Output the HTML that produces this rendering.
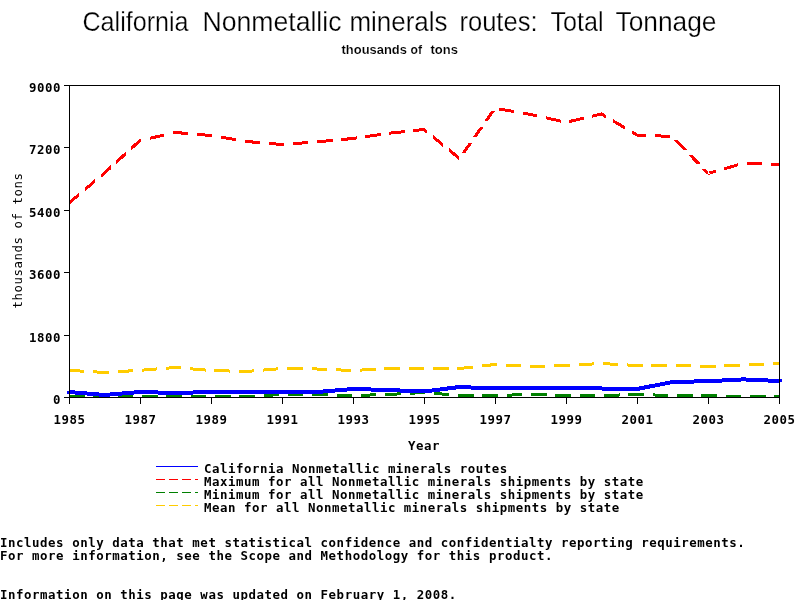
<!DOCTYPE html>
<html><head><meta charset="utf-8"><title>California Nonmetallic minerals routes: Total Tonnage</title>
<style>
html,body{margin:0;padding:0;background:#fff;}
body{width:800px;height:600px;overflow:hidden;position:relative;}
svg{position:absolute;left:0;top:0;}
text{fill:#000;}
</style></head><body>
<svg width="800" height="600" viewBox="0 0 800 600">
<g shape-rendering="crispEdges" stroke="none">
<path fill="#008000" d="M69.00,395.00 L84.50,395.00 L84.50,398.00 L69.00,398.00Z M93.35,395.00 L104.50,395.00 L104.50,398.00 L93.35,398.00Z M104.50,395.00 L108.85,395.00 L108.85,398.00 L104.50,398.00Z M117.70,395.00 L133.20,395.00 L133.20,398.00 L117.70,398.00Z M142.05,394.94 L157.54,394.51 L157.54,397.51 L142.05,397.94Z M166.38,394.26 L175.50,394.00 L175.50,397.00 L166.38,397.26Z M175.50,394.00 L181.87,394.18 L181.87,397.18 L175.50,397.00Z M190.71,394.43 L206.20,394.86 L206.20,397.87 L190.71,397.43Z M215.05,395.00 L230.55,395.00 L230.55,398.00 L215.05,398.00Z M239.40,395.00 L246.50,395.00 L246.50,398.00 L239.40,398.00Z M246.50,395.00 L254.87,394.53 L254.87,397.53 L246.50,398.00Z M263.69,394.03 L279.15,393.16 L279.15,396.16 L263.69,397.03Z M287.99,393.00 L303.49,393.00 L303.49,396.00 L287.99,396.00Z M312.34,393.00 L317.50,393.00 L317.50,396.00 L312.34,396.00Z M317.50,393.00 L327.83,393.29 L327.83,396.29 L317.50,396.00Z M336.67,393.54 L352.16,393.98 L352.16,396.98 L336.67,396.54Z M361.01,393.77 L376.49,393.34 L376.49,396.34 L361.01,396.78Z M385.34,393.09 L388.50,393.00 L388.50,396.00 L385.34,396.09Z M388.50,393.00 L400.80,392.30 L400.80,395.31 L388.50,396.00Z M409.62,391.81 L424.00,391.00 L424.00,394.00 L409.62,394.81Z M424.00,390.99 L425.07,391.09 L425.07,394.10 L424.00,394.01Z M433.86,391.83 L449.26,393.13 L449.26,396.14 L433.86,394.84Z M458.05,393.87 L459.50,393.99 L459.50,397.01 L458.05,396.88Z M459.50,394.00 L473.54,394.00 L473.54,397.00 L459.50,397.00Z M482.39,394.00 L495.00,394.00 L495.00,397.00 L482.39,397.00Z M495.00,394.00 L497.89,393.92 L497.89,396.92 L495.00,397.00Z M506.73,393.67 L522.22,393.23 L522.22,396.23 L506.73,396.67Z M531.06,393.02 L546.55,393.45 L546.55,396.45 L531.06,396.02Z M555.39,393.70 L566.00,394.00 L566.00,397.00 L555.39,396.70Z M566.00,394.00 L570.88,394.00 L570.88,397.00 L566.00,397.00Z M579.73,394.00 L595.23,394.00 L595.23,397.00 L579.73,397.00Z M604.08,393.93 L619.57,393.49 L619.57,396.49 L604.08,396.93Z M628.41,393.24 L637.00,393.00 L637.00,396.00 L628.41,396.24Z M637.00,393.00 L643.90,393.19 L643.90,396.20 L637.00,396.00Z M652.75,393.44 L668.23,393.88 L668.23,396.88 L652.75,396.44Z M677.08,394.00 L692.58,394.00 L692.58,397.00 L677.08,397.00Z M701.43,394.00 L708.00,394.00 L708.00,397.00 L701.43,397.00Z M708.00,394.00 L716.92,394.25 L716.92,397.25 L708.00,397.00Z M725.77,394.50 L741.26,394.94 L741.26,397.94 L725.77,397.50Z M750.10,395.00 L765.60,395.00 L765.60,398.00 L750.10,398.00Z M774.45,395.00 L779.00,395.00 L779.00,398.00 L774.45,398.00Z"/>
<path fill="#FFCC00" d="M69.00,368.80 L84.44,369.75 L84.44,372.76 L69.00,371.80Z M93.26,370.30 L104.50,371.00 L104.50,374.00 L93.26,373.31Z M104.50,371.00 L108.71,370.74 L108.71,373.74 L104.50,374.00Z M117.52,370.19 L132.97,369.23 L132.97,372.24 L117.52,373.20Z M141.78,368.65 L157.19,367.44 L157.19,370.45 L141.78,371.66Z M165.99,366.75 L175.50,366.00 L175.50,369.00 L165.99,369.75Z M175.50,365.99 L181.39,366.49 L181.39,369.50 L175.50,369.01Z M190.18,367.24 L205.58,368.54 L205.58,371.55 L190.18,370.25Z M214.39,369.09 L229.88,369.53 L229.88,372.53 L214.39,372.10Z M238.72,369.78 L246.50,370.00 L246.50,373.00 L238.72,372.78Z M246.50,369.99 L254.16,369.35 L254.16,372.36 L246.50,373.01Z M262.95,368.60 L278.35,367.30 L278.35,370.31 L262.95,371.62Z M287.17,367.07 L302.67,367.29 L302.67,370.29 L287.17,370.07Z M311.52,367.42 L317.50,367.50 L317.50,370.50 L311.52,370.42Z M317.50,367.50 L327.00,367.90 L327.00,370.90 L317.50,370.50Z M335.84,368.27 L351.31,368.93 L351.31,371.93 L335.84,371.28Z M360.13,368.60 L375.59,367.73 L375.59,370.73 L360.13,371.60Z M384.41,367.23 L388.50,367.00 L388.50,370.00 L384.41,370.23Z M388.50,367.00 L399.90,367.00 L399.90,370.00 L388.50,370.00Z M408.75,367.00 L424.00,367.00 L424.00,370.00 L408.75,370.00Z M424.00,367.00 L424.25,367.00 L424.25,370.00 L424.00,370.00Z M433.10,367.00 L448.60,367.00 L448.60,370.00 L433.10,370.00Z M457.45,367.00 L459.50,367.00 L459.50,370.00 L457.45,370.00Z M459.50,366.99 L472.79,365.49 L472.79,368.51 L459.50,370.01Z M481.53,364.51 L495.00,362.99 L495.00,366.01 L481.53,367.53Z M495.00,363.00 L496.87,363.10 L496.87,366.11 L495.00,366.00Z M505.69,363.60 L521.14,364.47 L521.14,367.48 L505.69,366.60Z M529.97,364.97 L530.50,365.00 L530.50,368.00 L529.97,367.97Z M530.50,365.00 L545.45,364.58 L545.45,367.58 L530.50,368.00Z M554.30,364.33 L566.00,364.00 L566.00,367.00 L554.30,367.33Z M566.00,364.00 L569.78,363.78 L569.78,366.79 L566.00,367.00Z M578.60,363.29 L594.05,362.42 L594.05,365.42 L578.60,366.29Z M602.88,362.08 L618.33,362.95 L618.33,365.95 L602.88,365.08Z M627.15,363.44 L637.00,364.00 L637.00,367.00 L627.15,366.45Z M637.00,364.00 L642.62,364.00 L642.62,367.00 L637.00,367.00Z M651.47,364.00 L666.97,364.00 L666.97,367.00 L651.47,367.00Z M675.82,364.09 L691.31,364.53 L691.31,367.53 L675.82,367.09Z M700.15,364.78 L708.00,365.00 L708.00,368.00 L700.15,367.78Z M708.00,365.00 L715.63,364.68 L715.63,367.68 L708.00,368.00Z M724.47,364.30 L739.94,363.65 L739.94,366.65 L724.47,367.31Z M748.78,363.28 L764.25,362.62 L764.25,365.62 L748.78,366.28Z M773.09,362.25 L779.00,362.00 L779.00,365.00 L773.09,365.25Z"/>
<path fill="#FF0000" d="M69.00,201.04 L79.09,192.51 L79.09,196.44 L69.00,204.96Z M84.85,187.64 L94.94,179.11 L94.94,183.04 L84.85,191.57Z M100.70,174.25 L104.50,171.04 L104.50,174.96 L100.70,178.17Z M104.50,170.97 L110.50,165.48 L110.50,169.54 L104.50,175.03Z M115.99,160.45 L125.61,151.64 L125.61,155.71 L115.99,164.51Z M131.10,146.61 L140.00,138.47 L140.00,142.53 L131.10,150.68Z M140.00,138.96 L141.11,138.71 L141.11,141.79 L140.00,142.04Z M149.56,136.81 L164.36,133.47 L164.36,136.55 L149.56,139.88Z M172.81,131.57 L175.50,130.96 L175.50,134.04 L172.81,134.64Z M175.50,130.99 L188.10,132.06 L188.10,135.07 L175.50,134.01Z M196.89,132.80 L211.00,133.99 L211.00,137.01 L196.89,135.81Z M211.00,133.98 L212.26,134.19 L212.26,137.23 L211.00,137.02Z M220.88,135.65 L235.98,138.20 L235.98,141.24 L220.88,138.69Z M244.59,139.66 L246.50,139.98 L246.50,143.02 L244.59,142.70Z M246.50,139.99 L259.95,141.13 L259.95,144.14 L246.50,143.01Z M268.74,141.87 L282.00,142.99 L282.00,146.01 L268.74,144.89Z M282.00,143.00 L284.14,142.83 L284.14,145.84 L282.00,146.00Z M292.94,142.16 L308.36,140.99 L308.36,144.00 L292.94,145.17Z M317.16,140.32 L317.50,140.30 L317.50,143.30 L317.16,143.33Z M317.50,140.29 L332.54,138.90 L332.54,141.91 L317.50,143.31Z M341.31,138.08 L353.00,136.99 L353.00,140.01 L341.31,141.09Z M353.00,136.98 L356.64,136.45 L356.64,139.48 L353.00,140.02Z M365.32,135.18 L380.51,132.95 L380.51,135.99 L365.32,138.21Z M389.19,131.72 L404.53,130.08 L404.53,133.09 L389.19,134.73Z M413.28,129.14 L424.00,127.99 L424.00,131.01 L413.28,132.16Z M424.00,127.56 L427.10,130.09 L427.10,133.97 L424.00,131.44Z M432.97,134.89 L443.25,143.29 L443.25,147.17 L432.97,138.76Z M449.13,148.09 L459.41,156.49 L459.41,160.37 L449.13,151.96Z M461.64,152.88 L468.71,142.88 L472.38,142.88 L465.31,152.88Z M472.74,137.17 L479.81,127.18 L483.49,127.18 L476.42,137.17Z M483.85,121.47 L490.92,111.48 L494.59,111.48 L487.52,121.47Z M498.82,107.43 L513.90,110.03 L513.90,113.07 L498.82,110.48Z M522.51,111.51 L530.50,112.88 L530.50,115.92 L522.51,114.55Z M530.50,112.86 L537.47,114.41 L537.47,117.49 L530.50,115.94Z M545.93,116.30 L560.75,119.59 L560.75,122.67 L545.93,119.37Z M569.19,120.01 L583.94,116.56 L583.94,119.65 L569.19,123.09Z M592.37,114.59 L601.50,112.46 L601.50,115.54 L592.37,117.68Z M601.50,112.26 L606.07,114.96 L606.07,118.45 L601.50,115.74Z M612.93,119.02 L624.94,126.12 L624.94,129.61 L612.93,122.50Z M631.79,130.18 L637.00,133.26 L637.00,136.74 L631.79,133.66Z M637.00,133.50 L645.76,133.87 L645.76,136.87 L637.00,136.50Z M654.60,134.24 L670.07,134.90 L670.07,137.90 L654.60,137.24Z M674.08,140.32 L682.93,149.54 L687.09,149.54 L678.24,140.32Z M687.98,154.80 L696.83,164.03 L700.99,164.03 L692.14,154.80Z M701.88,169.29 L705.92,173.50 L710.08,173.50 L706.04,169.29Z M708.00,171.94 L715.82,169.67 L715.82,172.79 L708.00,175.06Z M724.04,167.28 L738.43,163.11 L738.43,166.23 L724.04,170.41Z M746.88,161.82 L762.36,162.39 L762.36,165.39 L746.88,164.82Z M771.20,162.71 L779.00,163.00 L779.00,166.00 L771.20,165.72Z"/>
<path fill="#0000FF" d="M69.00,389.99 L104.50,392.99 L104.50,397.01 L69.00,394.01Z M104.50,392.99 L140.00,389.99 L140.00,394.01 L104.50,397.01Z M140.00,390.00 L175.50,391.00 L175.50,395.00 L140.00,394.00Z M175.50,391.00 L211.00,390.00 L211.00,394.00 L175.50,395.00Z M211.00,390.00 L246.50,390.50 L246.50,394.50 L211.00,394.00Z M246.50,390.50 L282.00,390.00 L282.00,394.00 L246.50,394.50Z M282.00,390.00 L317.50,390.00 L317.50,394.00 L282.00,394.00Z M317.50,389.99 L353.00,386.99 L353.00,391.01 L317.50,394.01Z M353.00,387.00 L388.50,388.00 L388.50,392.00 L353.00,391.00Z M388.50,388.00 L424.00,389.50 L424.00,393.50 L388.50,392.00Z M424.00,389.48 L459.50,384.98 L459.50,389.02 L424.00,393.52Z M459.50,385.00 L495.00,386.50 L495.00,390.50 L459.50,389.00Z M495.00,386.50 L530.50,386.00 L530.50,390.00 L495.00,390.50Z M530.50,386.00 L566.00,386.00 L566.00,390.00 L530.50,390.00Z M566.00,386.00 L601.50,386.50 L601.50,390.50 L566.00,390.00Z M601.50,386.50 L637.00,387.00 L637.00,391.00 L601.50,390.50Z M637.00,386.96 L672.50,379.96 L672.50,384.04 L637.00,391.04Z M672.50,380.00 L708.00,379.20 L708.00,383.20 L672.50,384.00Z M708.00,379.20 L743.50,377.40 L743.50,381.40 L708.00,383.20Z M743.50,377.40 L779.00,379.00 L779.00,383.00 L743.50,381.40Z"/>
<rect x="67" y="391" width="2" height="3" fill="#0000FF"/>
<rect x="779" y="379" width="3" height="3" fill="#0000FF"/>
</g>
<g shape-rendering="crispEdges" stroke="#000" stroke-width="1" fill="none">
<rect x="69.5" y="85.5" width="710" height="312"/>
<line x1="64" y1="397.5" x2="69" y2="397.5"/>
<line x1="64" y1="335.5" x2="69" y2="335.5"/>
<line x1="64" y1="272.5" x2="69" y2="272.5"/>
<line x1="64" y1="210.5" x2="69" y2="210.5"/>
<line x1="64" y1="147.5" x2="69" y2="147.5"/>
<line x1="64" y1="85.5" x2="69" y2="85.5"/>
<line x1="69.5" y1="397" x2="69.5" y2="404"/>
<line x1="140.5" y1="397" x2="140.5" y2="404"/>
<line x1="211.5" y1="397" x2="211.5" y2="404"/>
<line x1="282.5" y1="397" x2="282.5" y2="404"/>
<line x1="353.5" y1="397" x2="353.5" y2="404"/>
<line x1="424.5" y1="397" x2="424.5" y2="404"/>
<line x1="495.5" y1="397" x2="495.5" y2="404"/>
<line x1="566.5" y1="397" x2="566.5" y2="404"/>
<line x1="637.5" y1="397" x2="637.5" y2="404"/>
<line x1="708.5" y1="397" x2="708.5" y2="404"/>
<line x1="779.5" y1="397" x2="779.5" y2="404"/>
</g>
<g shape-rendering="crispEdges" fill="none" stroke-width="1">
<line x1="156" y1="466.5" x2="198" y2="466.5" stroke="#0000FF"/>
<line x1="156" y1="479.5" x2="198" y2="479.5" stroke="#FF0000" stroke-dasharray="9 4"/>
<line x1="156" y1="492.5" x2="198" y2="492.5" stroke="#008000" stroke-dasharray="9 4"/>
<line x1="156" y1="505.5" x2="198" y2="505.5" stroke="#FFCC00" stroke-dasharray="9 4"/>
</g>
<text x="82.5" y="31" font-family='"Liberation Sans", "DejaVu Sans", sans-serif' font-size="27.5" textLength="106" lengthAdjust="spacingAndGlyphs" stroke="#fff" stroke-width="0.25">California</text>
<text x="202.5" y="31" font-family='"Liberation Sans", "DejaVu Sans", sans-serif' font-size="27.5" textLength="139" lengthAdjust="spacingAndGlyphs" stroke="#fff" stroke-width="0.25">Nonmetallic</text>
<text x="349.5" y="31" font-family='"Liberation Sans", "DejaVu Sans", sans-serif' font-size="27.5" textLength="98" lengthAdjust="spacingAndGlyphs" stroke="#fff" stroke-width="0.25">minerals</text>
<text x="459.5" y="31" font-family='"Liberation Sans", "DejaVu Sans", sans-serif' font-size="27.5" textLength="78" lengthAdjust="spacingAndGlyphs" stroke="#fff" stroke-width="0.25">routes:</text>
<text x="550.5" y="31" font-family='"Liberation Sans", "DejaVu Sans", sans-serif' font-size="27.5" textLength="53" lengthAdjust="spacingAndGlyphs" stroke="#fff" stroke-width="0.25">Total</text>
<text x="615.5" y="31" font-family='"Liberation Sans", "DejaVu Sans", sans-serif' font-size="27.5" textLength="101" lengthAdjust="spacingAndGlyphs" stroke="#fff" stroke-width="0.25">Tonnage</text>
<text x="341.5" y="54" font-family='"Liberation Sans", "DejaVu Sans", sans-serif' font-size="12.4" font-weight="bold" textLength="65.5" lengthAdjust="spacingAndGlyphs" stroke="#fff" stroke-width="0.15">thousands</text>
<text x="410.5" y="54" font-family='"Liberation Sans", "DejaVu Sans", sans-serif' font-size="12.4" font-weight="bold" textLength="11.5" lengthAdjust="spacingAndGlyphs" stroke="#fff" stroke-width="0.15">of</text>
<text x="430.5" y="54" font-family='"Liberation Sans", "DejaVu Sans", sans-serif' font-size="12.4" font-weight="bold" textLength="27.5" lengthAdjust="spacingAndGlyphs" stroke="#fff" stroke-width="0.15">tons</text>
<text x="61" y="92" font-family='"DejaVu Sans Mono", "Liberation Mono", monospace' font-size="12.4" font-weight="bold" text-anchor="end" letter-spacing="0.535">9000</text>
<text x="61" y="154" font-family='"DejaVu Sans Mono", "Liberation Mono", monospace' font-size="12.4" font-weight="bold" text-anchor="end" letter-spacing="0.535">7200</text>
<text x="61" y="217" font-family='"DejaVu Sans Mono", "Liberation Mono", monospace' font-size="12.4" font-weight="bold" text-anchor="end" letter-spacing="0.535">5400</text>
<text x="61" y="279" font-family='"DejaVu Sans Mono", "Liberation Mono", monospace' font-size="12.4" font-weight="bold" text-anchor="end" letter-spacing="0.535">3600</text>
<text x="61" y="342" font-family='"DejaVu Sans Mono", "Liberation Mono", monospace' font-size="12.4" font-weight="bold" text-anchor="end" letter-spacing="0.535">1800</text>
<text x="61" y="404" font-family='"DejaVu Sans Mono", "Liberation Mono", monospace' font-size="12.4" font-weight="bold" text-anchor="end" letter-spacing="0.535">0</text>
<text x="69.5" y="424" font-family='"DejaVu Sans Mono", "Liberation Mono", monospace' font-size="12.4" font-weight="bold" text-anchor="middle" letter-spacing="0.535">1985</text>
<text x="140.5" y="424" font-family='"DejaVu Sans Mono", "Liberation Mono", monospace' font-size="12.4" font-weight="bold" text-anchor="middle" letter-spacing="0.535">1987</text>
<text x="211.5" y="424" font-family='"DejaVu Sans Mono", "Liberation Mono", monospace' font-size="12.4" font-weight="bold" text-anchor="middle" letter-spacing="0.535">1989</text>
<text x="282.5" y="424" font-family='"DejaVu Sans Mono", "Liberation Mono", monospace' font-size="12.4" font-weight="bold" text-anchor="middle" letter-spacing="0.535">1991</text>
<text x="353.5" y="424" font-family='"DejaVu Sans Mono", "Liberation Mono", monospace' font-size="12.4" font-weight="bold" text-anchor="middle" letter-spacing="0.535">1993</text>
<text x="424.5" y="424" font-family='"DejaVu Sans Mono", "Liberation Mono", monospace' font-size="12.4" font-weight="bold" text-anchor="middle" letter-spacing="0.535">1995</text>
<text x="495.5" y="424" font-family='"DejaVu Sans Mono", "Liberation Mono", monospace' font-size="12.4" font-weight="bold" text-anchor="middle" letter-spacing="0.535">1997</text>
<text x="566.5" y="424" font-family='"DejaVu Sans Mono", "Liberation Mono", monospace' font-size="12.4" font-weight="bold" text-anchor="middle" letter-spacing="0.535">1999</text>
<text x="637.5" y="424" font-family='"DejaVu Sans Mono", "Liberation Mono", monospace' font-size="12.4" font-weight="bold" text-anchor="middle" letter-spacing="0.535">2001</text>
<text x="708.5" y="424" font-family='"DejaVu Sans Mono", "Liberation Mono", monospace' font-size="12.4" font-weight="bold" text-anchor="middle" letter-spacing="0.535">2003</text>
<text x="779.5" y="424" font-family='"DejaVu Sans Mono", "Liberation Mono", monospace' font-size="12.4" font-weight="bold" text-anchor="middle" letter-spacing="0.535">2005</text>
<text x="424" y="450" font-family='"DejaVu Sans Mono", "Liberation Mono", monospace' font-size="12.4" font-weight="bold" text-anchor="middle" letter-spacing="0.535">Year</text>
<text transform="translate(22,240.5) rotate(-90)" x="0" y="0" font-family='"DejaVu Sans Mono", "Liberation Mono", monospace' font-size="12.4" letter-spacing="0.535" text-anchor="middle">thousands of tons</text>
<text x="204" y="473" font-family='"DejaVu Sans Mono", "Liberation Mono", monospace' font-size="12.4" font-weight="bold" text-anchor="start" letter-spacing="0.535">California Nonmetallic minerals routes</text>
<text x="204" y="486" font-family='"DejaVu Sans Mono", "Liberation Mono", monospace' font-size="12.4" font-weight="bold" text-anchor="start" letter-spacing="0.535">Maximum for all Nonmetallic minerals shipments by state</text>
<text x="204" y="499" font-family='"DejaVu Sans Mono", "Liberation Mono", monospace' font-size="12.4" font-weight="bold" text-anchor="start" letter-spacing="0.535">Minimum for all Nonmetallic minerals shipments by state</text>
<text x="204" y="512" font-family='"DejaVu Sans Mono", "Liberation Mono", monospace' font-size="12.4" font-weight="bold" text-anchor="start" letter-spacing="0.535">Mean for all Nonmetallic minerals shipments by state</text>
<text x="0" y="547" font-family='"DejaVu Sans Mono", "Liberation Mono", monospace' font-size="12.4" font-weight="bold" text-anchor="start" letter-spacing="0.555">Includes only data that met statistical confidence and confidentialty reporting requirements.</text>
<text x="0" y="560" font-family='"DejaVu Sans Mono", "Liberation Mono", monospace' font-size="12.4" font-weight="bold" text-anchor="start" letter-spacing="0.555">For more information, see the Scope and Methodology for this product.</text>
<text x="0" y="599" font-family='"DejaVu Sans Mono", "Liberation Mono", monospace' font-size="12.4" font-weight="bold" text-anchor="start" letter-spacing="0.555">Information on this page was updated on February 1, 2008.</text>
</svg>
</body></html>
